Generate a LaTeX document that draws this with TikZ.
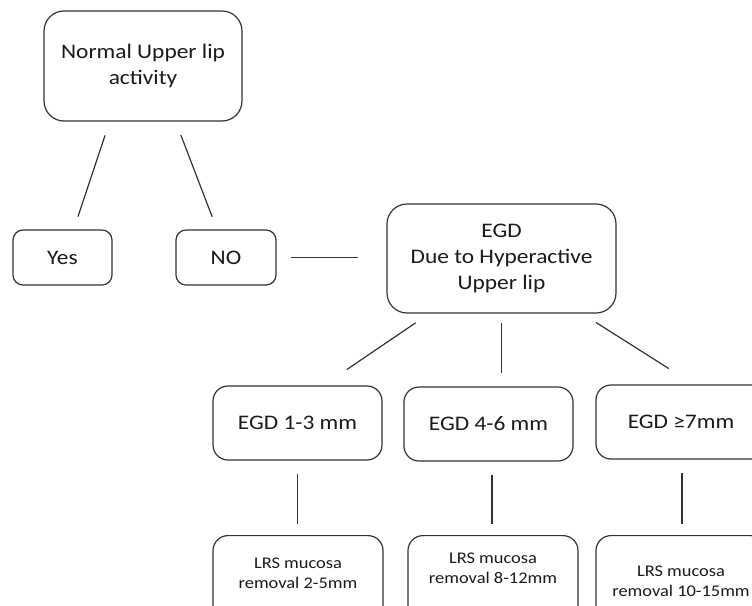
\documentclass[tikz,border=0pt]{standalone}
\usepackage{fontspec}
\setmainfont{Carlito}[FakeStretch=1.13]
\usepackage{tikz}
\usetikzlibrary{positioning}
\tikzset{
  box/.style={draw=black!80, line width=1.2pt, rounded corners=#1, inner sep=0pt, align=center,
    text=black!90, font=\fontsize{20.7}{26}\selectfont},
  box/.default=15pt,
  lrsbox/.style={box, minimum width=170pt, minimum height=90pt, anchor=north},
  lrstext/.style={align=center, inner sep=0pt, text=black!90, font=\fontsize{16.3}{20}\selectfont},
  link/.style={draw=black!80, line width=1.2pt}
}
\begin{document}
\begin{tikzpicture}[x=1pt,y=-1pt]
      \useasboundingbox (0,0) rectangle (752,605);
      \clip (0,0) rectangle (752,605);
        \node[box=20pt, minimum width=198pt, minimum height=110pt] (top) at (143,66) {Normal Upper lip\\activity};
        \node[box=10pt, minimum width=99pt, minimum height=55pt] (yes) at (62.5,257.5) {Yes};
        \node[box=10pt, minimum width=100pt, minimum height=55pt] (no) at (226,257.5) {NO};
        \node[box=20pt, minimum width=229pt, minimum height=109pt] (egd) at (501.5,258.5) {EGD\\Due to Hyperactive\\Upper lip};
        \node[box, minimum width=169pt, minimum height=74pt] (small) at (297.5,423) {EGD 1-3 mm};
        \node[box, minimum width=169pt, minimum height=74pt] (medium) at (488.5,424) {EGD 4-6 mm};
        \node[box, minimum width=170pt, minimum height=74pt] (large) at (681,422) {EGD ≥7mm};
        \node[lrsbox] (lrs1) at (298,535) {};
        \node[lrsbox] (lrs2) at (493,535) {};
        \node[lrsbox] (lrs3) at (681,535) {};
        \node[lrstext] (t1) at ([yshift=-38pt]lrs1.north) {LRS mucosa\\removal 2-5mm};
        \node[lrstext] (t2) at ([yshift=-33pt]lrs2.north) {LRS mucosa\\removal 8-12mm};
        \node[lrstext] (t3) at ([yshift=-46pt]lrs3.north) {LRS mucosa\\removal 10-15mm};
        % connectors, all with a gap at both ends
        \draw[link, shorten <=14.5pt, shorten >=13.5pt] ([xshift=-33.4pt]top.south) -- ([xshift=11.2pt]yes.north);
        \draw[link, shorten <=14.5pt, shorten >=13.5pt] ([xshift=32.7pt]top.south) -- ([xshift=-9pt]no.north);
        \draw[link, shorten <=14pt, shorten >=28pt] (no.east) -- (no.east -| egd.west);
        \draw[link, shorten <=16.4pt, shorten >=28.2pt] ([xshift=-72.3pt]egd.south) -- ([xshift=26pt]small.north);
        \draw[link, shorten <=9pt, shorten >=13pt] (egd.south) -- (egd.south |- medium.north);
        \draw[link, shorten <=16.6pt, shorten >=29.6pt] ([xshift=80.5pt]egd.south) -- ([xshift=12.8pt]large.north);
        \draw[link, shorten <=13pt, shorten >=11pt] (small.south) -- (small.south |- lrs1.north);
        \draw[link, shorten <=13pt, shorten >=11pt] ([xshift=3.5pt]medium.south) -- ([xshift=3.5pt]medium.south |- lrs2.north);
        \draw[link, shorten <=13pt, shorten >=11pt] ([xshift=1pt]large.south) -- ([xshift=1pt]large.south |- lrs3.north);
\end{tikzpicture}
\end{document}
